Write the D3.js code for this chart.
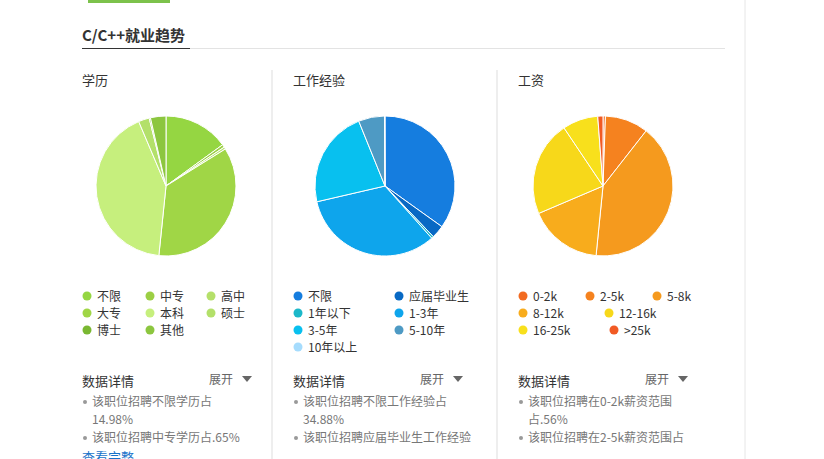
<!DOCTYPE html><html><head><meta charset="utf-8"><script src="https://cdn.jsdelivr.net/npm/d3@7"></script>
<style>body{margin:0;background:#fff;font-family:"Noto Sans CJK SC","Noto Sans",sans-serif}</style></head><body><svg id="c" width="824" height="459"></svg><script>
const eduLabels=["不限","中专","高中","大专","本科","硕士","博士","其他"];
const eduValues=[14.98,0.65,0.5,35.5,42,2.5,0.3,3.57];
const eduColors=["#95d642","#9ccf44","#b5e06a","#a0d646","#c6ef7d","#b3e06a","#7ab832","#8cc63f"];
const expLabels=["不限","应届毕业生","1年以下","1-3年","3-5年","5-10年","10年以上"];
const expValues=[34.88,3,0.5,33,22.5,6,0.12];
const expColors=["#157ddf","#0869c4","#1cb8c9","#0ea5ec","#08c0ef","#4e9ac4","#a6dcfd"];
const salLabels=["0-2k","2-5k","5-8k","8-12k","12-16k","16-25k",">25k"];
const salValues=[0.56,10,41,17,22,8.2,1.2];
const salColors=["#f26b21","#f5821f","#f59a1e","#f8ac1c","#f7d81a","#f8e01c","#f15a24"];
const details=[["该职位招聘不限学历占","14.98%","该职位招聘中专学历占.65%"],["该职位招聘不限工作经验占","34.88%","该职位招聘应届毕业生工作经验"],["该职位招聘在0-2k薪资范围","占.56%","该职位招聘在2-5k薪资范围占"]];
const svg=d3.select("#c");
svg.append("rect").attr("x",88).attr("y",0).attr("width",82).attr("height",3).attr("fill","#7cc24b");
svg.append("line").attr("x1",745).attr("x2",745).attr("y1",0).attr("y2",459).attr("stroke","#e6e6e6");
svg.append("text").attr("x",82).attr("y",41).text("C/C++就业趋势").attr("font-size",15).attr("font-weight","bold").attr("fill","#333");
svg.append("line").attr("x1",82).attr("x2",725).attr("y1",48.5).attr("y2",48.5).attr("stroke","#e3e3e3");
svg.append("line").attr("x1",82).attr("x2",190).attr("y1",48.5).attr("y2",48.5).attr("stroke","#333").attr("stroke-width",1);
[272,497].forEach(x=>svg.append("line").attr("x1",x).attr("x2",x).attr("y1",70).attr("y2",459).attr("stroke","#ddd"));
const panels=[
 {t:"学历",x:82,cx:166,L:eduLabels,V:eduValues,C:eduColors,pos:[[0,0],[63,0],[124,0],[0,1],[63,1],[124,1],[0,2],[63,2]]},
 {t:"工作经验",x:293,cx:385,L:expLabels,V:expValues,C:expColors,pos:[[0,0],[101,0],[0,1],[101,1],[0,2],[101,2],[0,3]]},
 {t:"工资",x:518,cx:603,L:salLabels,V:salValues,C:salColors,pos:[[0,0],[67,0],[134,0],[0,1],[86,1],[0,2],[91,2]]}];
const pie=d3.pie().sort(null), arc=d3.arc().innerRadius(0).outerRadius(70);
panels.forEach((p,i)=>{
 const g=svg.append("g");
 g.append("text").attr("x",p.x).attr("y",85).text(p.t).attr("font-size",13).attr("fill","#333");
 g.append("g").attr("transform",`translate(${p.cx},186)`).selectAll("path").data(pie(p.V)).join("path")
  .attr("d",arc).attr("fill",(d,j)=>p.C[j]).attr("stroke","#fff").attr("stroke-width",1);
 p.L.forEach((l,j)=>{const [dx,r]=p.pos[j];const y=296+r*17;
  g.append("circle").attr("cx",p.x+dx+5).attr("cy",y).attr("r",4.5).attr("fill",p.C[j]);
  g.append("text").attr("x",p.x+dx+15).attr("y",y+4.5).text(l).attr("font-size",12).attr("fill","#333");});
 g.append("text").attr("x",p.x).attr("y",386).text("数据详情").attr("font-size",13).attr("fill","#333");
 g.append("text").attr("x",p.x+127).attr("y",384).text("展开").attr("font-size",12).attr("fill","#666");
 const tx=p.x+160;g.append("path").attr("d",`M${tx},376L${tx+10},376L${tx+5},382Z`).attr("fill","#666");
 const dt=details[i];
 [[dt[0],406,true],[dt[1],424,false],[dt[2],442,true]].forEach(([s,y,b])=>{
  if(b)g.append("circle").attr("cx",p.x+3).attr("cy",y-4).attr("r",2).attr("fill","#999");
  g.append("text").attr("x",p.x+10).attr("y",y).text(s).attr("font-size",12).attr("fill","#777");});
});
svg.append("text").attr("x",82).attr("y",462).text("查看完整").attr("font-size",13).attr("fill","#1a73c9");
</script></body></html>
